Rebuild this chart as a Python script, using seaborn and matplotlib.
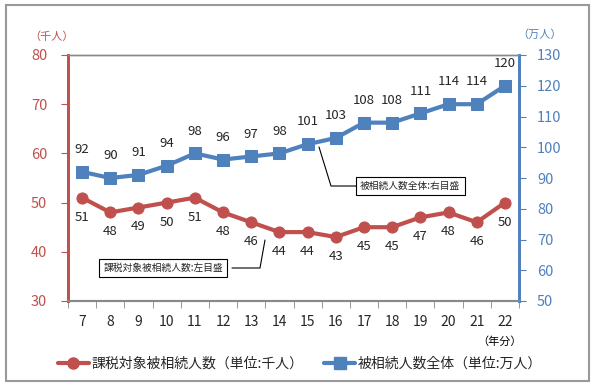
import pandas as pd
import numpy as np
import matplotlib
matplotlib.use('Agg')
import matplotlib.pyplot as plt
import seaborn as sns
from matplotlib.patches import Rectangle
from matplotlib.lines import Line2D

sns.set_style('white')
plt.rcParams['font.family'] = ['Noto Sans CJK JP', 'DejaVu Sans']

# データ
years = ['7', '8', '9', '10', '11', '12', '13', '14', '15', '16', '17', '18', '19', '20', '21', '22']
taxed = [51, 48, 49, 50, 51, 48, 46, 44, 44, 43, 45, 45, 47, 48, 46, 50]        # 千人
total = [92, 90, 91, 94, 98, 96, 97, 98, 101, 103, 108, 108, 111, 114, 114, 120]  # 万人

red = '#C0504D'
blue = '#4F81BD'

df = pd.DataFrame({'pos': np.arange(len(years)), 'taxed': taxed, 'total': total})

fig = plt.figure(figsize=(5.95, 3.85), dpi=100)
ax = fig.add_axes([68/595, 84/385, 451/595, 246/385])
ax2 = ax.twinx()

sns.lineplot(data=df, x='pos', y='taxed', ax=ax, color=red, lw=3,
             marker='o', markersize=8, markeredgecolor=red)
sns.lineplot(data=df, x='pos', y='total', ax=ax2, color=blue, lw=3,
             marker='s', markersize=8, markeredgecolor=blue)

ax.set_xlim(-0.5, len(years) - 0.5)
ax.set_ylim(30, 80)
ax2.set_ylim(50, 130)
ax.set_yticks(range(30, 81, 10))
ax2.set_yticks(range(50, 131, 10))
ax.set_xticks(df['pos'])
ax.set_xticklabels(years)
ax.set_xticks(np.arange(-0.5, len(years)), minor=True)
ax.set_xlabel('')
ax.set_ylabel('')
ax2.set_ylabel('')

ax.tick_params(axis='x', which='major', length=0, pad=10, labelsize=10)
ax.tick_params(axis='x', which='minor', length=5, color='#888888', direction='out', bottom=True)
ax.tick_params(axis='y', length=5, color=red, labelcolor=red, labelsize=10.5, pad=10, direction='out', left=True)
ax2.tick_params(axis='y', length=5, color=blue, labelcolor=blue, labelsize=10.5, pad=8, direction='out', right=True)

for a in (ax, ax2):
    a.spines['top'].set_color('#888888')
    a.spines['bottom'].set_color('#888888')
    a.spines['top'].set_linewidth(1)
    a.spines['bottom'].set_linewidth(1.5)
    a.spines['left'].set_color(red)
    a.spines['right'].set_color(blue)
    a.spines['left'].set_linewidth(2)
    a.spines['right'].set_linewidth(2)

# データラベル
for i, v in enumerate(taxed):
    ax.annotate(str(v), (i, v), xytext=(0, -14), textcoords='offset points',
                ha='center', va='center', fontsize=9.5)
for i, v in enumerate(total):
    ax2.annotate(str(v), (i, v), xytext=(0, 16), textcoords='offset points',
                 ha='center', va='center', fontsize=9.5)

# 単位
fig.text(52/595, 1 - 37/385, '（千人）', color=red, fontsize=8, ha='center', va='center')
fig.text(540/595, 1 - 35/385, '（万人）', color=blue, fontsize=8, ha='center', va='center')
fig.text(500/595, 1 - 342/385, '（年分）', color='black', fontsize=8, ha='center', va='center')

# 吹き出し
fig.add_artist(Line2D([319/595, 331/595, 356/595], [1 - 147/385, 1 - 186/385, 1 - 186/385],
                      color='black', lw=0.8))
fig.text(410/595, 1 - 186/385, '被相続人数全体:右目盛', fontsize=7, ha='center', va='center',
         bbox=dict(boxstyle='square,pad=0.45', fc='white', ec='black', lw=0.8))
fig.add_artist(Line2D([232/595, 260/595, 265/595], [1 - 268/385, 1 - 268/385, 1 - 240/385],
                      color='black', lw=0.8))
fig.text(163/595, 1 - 268/385, '課税対象被相続人数:左目盛', fontsize=7, ha='center', va='center',
         bbox=dict(boxstyle='square,pad=0.45', fc='white', ec='black', lw=0.8))

# 凡例
handles = [Line2D([], [], color=red, lw=3, marker='o', markersize=8),
           Line2D([], [], color=blue, lw=3, marker='s', markersize=8)]
fig.legend(handles, ['課税対象被相続人数（単位:千人）', '被相続人数全体（単位:万人）'],
           loc='center', bbox_to_anchor=(300/595, 1 - 364/385), ncol=2, frameon=False,
           fontsize=10, handlelength=2.2, handletextpad=0.2, columnspacing=1.5)

# 外枠
fig.add_artist(Rectangle((6/595, 4/385), 583/595, 376/385, transform=fig.transFigure,
                         fill=False, ec='#999999', lw=1.5))

fig.savefig('out.png', dpi=100)
